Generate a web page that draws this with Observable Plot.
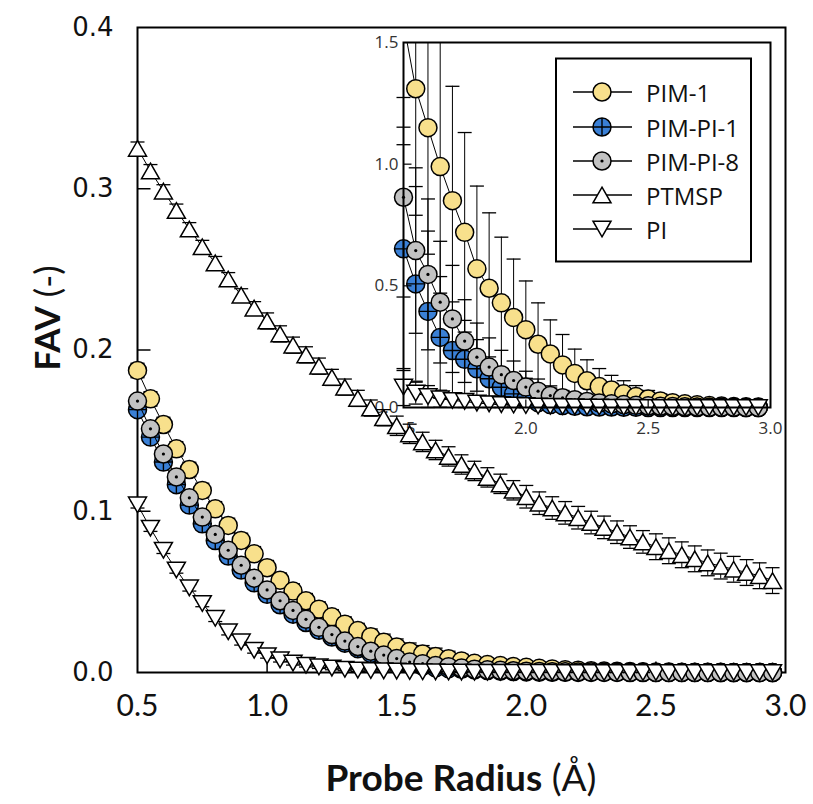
<!DOCTYPE html>
<html><head><meta charset="utf-8">
<script src="https://cdn.jsdelivr.net/npm/d3@7"></script>
<script src="https://cdn.jsdelivr.net/npm/@observablehq/plot@0.6"></script>
<style>
body{margin:0;background:#fff;}
#wrap{position:relative;width:813px;height:804px;overflow:hidden;background:#fff;}
#wrap > svg{position:absolute;}
</style></head><body><div id="wrap"></div>
<script>
// ---------- data (FAV as fraction; inset shows the same data in %) ----------
const radius = [0.5,0.55,0.6,0.65,0.7,0.75,0.8,0.85,0.9,0.95,1.0,1.05,1.1,1.15,1.2,1.25,1.3,1.35,1.4,1.45,1.5,1.55,1.6,1.65,1.7,1.75,1.8,1.85,1.9,1.95,2.0,2.05,2.1,2.15,2.2,2.25,2.3,2.35,2.4,2.45,2.5,2.55,2.6,2.65,2.7,2.75,2.8,2.85,2.9,2.95];

const pim1 = [0.1873,0.1697,0.1538,0.1387,0.1259,0.1129,0.1015,0.0912,0.0819,0.0736,
  0.0650,0.0572,0.0505,0.0445,0.0393,0.0345,0.0300,0.0260,0.0222,0.0188,
  0.0158,0.0131,0.0115,0.0099,0.0085,0.0072,0.0057,0.0049,0.0043,0.0037,
  0.0032,0.0026,0.0022,0.00175,0.0014,0.0011,0.00086,0.00072,0.00056,0.00045,
  0.00035,0.00027,0.0002,0.00015,0.00011,0.00008,0.00006,0.00004,0.00003,0.00002];
const pim1Err = [0.0045,0.0045,0.0045,0.0045,0.0045,0.0045,0.0045,0.0045,0.0045,0.0045,
  0.0045,0.0045,0.0045,0.0045,0.0045,0.0045,0.0045,0.0045,0.0048,0.0050,
  0.0050,0.0052,0.0052,0.0052,0.0047,0.0041,0.0034,0.0031,0.0027,0.0024,
  0.0020,0.0017,0.0014,0.00125,0.0010,0.00086,0.00074,0.0006,0.00054,0.00045,
  0.00035,0.00028,0.0002,0.00015,0.0001,0.00008,0.00006,0.00004,0.00003,0.00002];

const pimPI1 = [0.1630,0.1460,0.1305,0.1165,0.1038,0.0922,0.0818,0.0722,0.0635,0.0556,
  0.0485,0.0420,0.0362,0.0310,0.0262,0.0220,0.0182,0.0148,0.0118,0.0090,
  0.00652,0.00508,0.00395,0.00288,0.00234,0.00198,0.00159,0.00118,0.00083,0.00056,
  0.00035,0.0002,0.00012,0.00008,0.00005,0.00003,0.00002,0.00002,0.00001,0.00001,
  0,0,0,0,0,0,0,0,0,0];
const pimPI1Err = [0.003,0.003,0.003,0.003,0.003,0.003,0.003,0.003,0.003,0.003,
  0.003,0.003,0.003,0.003,0.003,0.003,0.003,0.003,0.003,0.003,
  0.0050,0.0040,0.0033,0.0025,0.0020,0.0016,0.0012,0.0009,0.0007,0.0005,
  0.00035,0.0002,0.00012,0.00008,0.00005,0.00003,0.00002,0.00002,0.00001,0.00001,
  0,0,0,0,0,0,0,0,0,0];

const pimPI8 = [0.1683,0.1511,0.1355,0.1213,0.1083,0.0964,0.0856,0.0758,0.0665,0.0585,
  0.0512,0.0445,0.0385,0.0330,0.0280,0.0235,0.0195,0.0161,0.0132,0.0108,
  0.00864,0.00645,0.00547,0.00433,0.00364,0.00273,0.00207,0.00166,0.00135,0.00111,
  0.00084,0.00067,0.00049,0.0004,0.00032,0.00025,0.00019,0.00015,0.00012,0.00009,
  0.00007,0.00005,0.00004,0.00003,0.00002,0.00001,0.00001,0.00001,0,0];
const pimPI8Err = [0.003,0.003,0.003,0.003,0.003,0.003,0.003,0.003,0.003,0.003,
  0.003,0.003,0.003,0.003,0.003,0.003,0.003,0.003,0.003,0.003,
  0.0041,0.0034,0.0031,0.0025,0.0022,0.0017,0.0014,0.0012,0.0010,0.0008,
  0.00065,0.0005,0.0004,0.0003,0.00025,0.0002,0.00015,0.0001,0.0001,0.00008,
  0.00006,0.00005,0.00004,0.00003,0.00002,0.00001,0.00001,0.00001,0,0];

const ptmsp = [0.325,0.311,0.2985,0.2865,0.275,0.264,0.254,0.244,0.234,0.226,
  0.218,0.210,0.203,0.197,0.190,0.183,0.177,0.170,0.164,0.158,
  0.153,0.148,0.143,0.138,0.134,0.129,0.125,0.121,0.117,0.113,
  0.109,0.105,0.102,0.099,0.096,0.093,0.090,0.087,0.084,0.081,
  0.078,0.0755,0.073,0.0705,0.068,0.066,0.064,0.062,0.060,0.057];
const ptmspErr = [0.004,0.004,0.004,0.004,0.004,0.004,0.004,0.004,0.004,0.004,
  0.005,0.005,0.005,0.005,0.005,0.005,0.005,0.005,0.005,0.005,
  0.006,0.006,0.006,0.006,0.006,0.006,0.006,0.006,0.006,0.006,
  0.007,0.007,0.007,0.007,0.007,0.007,0.007,0.007,0.007,0.007,
  0.008,0.008,0.008,0.008,0.008,0.008,0.008,0.008,0.008,0.008];

const pi = [0.1040,0.0895,0.0758,0.0636,0.0525,0.0428,0.0336,0.0253,0.0190,0.0138,
  0.0104,0.0078,0.0058,0.0045,0.0035,0.0027,0.0020,0.0015,0.0012,0.0010,
  0.00084,0.00059,0.00045,0.00036,0.00029,0.00025,0.00018,0.00015,0.00012,0.0001,
  0.00008,0.00006,0.00005,0.00004,0.00003,0.00002,0.00002,0.00001,0.00001,0.00001,
  0,0,0,0,0,0,0,0,0,0];
const piErr = [0.002,0.002,0.002,0.002,0.002,0.002,0.002,0.002,0.002,0.0018,
  0.0015,0.0013,0.0012,0.0011,0.001,0.001,0.0009,0.0009,0.0008,0.0008,
  0.00076,0.00045,0.00045,0.00035,0.0003,0.00025,0.0002,0.00015,0.00012,0.0001,
  0.00008,0.00006,0.00005,0.00004,0.00003,0.00002,0.00002,0.00001,0.00001,0.00001,
  0,0,0,0,0,0,0,0,0,0];

const seriesNames = ["PIM-1","PIM-PI-1","PIM-PI-8","PTMSP","PI"];
const mainXTicks = [0.5,1.0,1.5,2.0,2.5,3.0];
const mainYTicks = [0.0,0.1,0.2,0.3,0.4];
const insetXTicks = [1.5,2.0,2.5,3.0];
const insetYTicks = [0.0,0.5,1.0,1.5];

// ---------- symbols ----------
const triUp = {draw(ctx){const hw=9,h=15.6;ctx.moveTo(0,-h/2);ctx.lineTo(hw,h/2);ctx.lineTo(-hw,h/2);ctx.closePath();}};
const triDown = {draw(ctx){const hw=9,h=15.6;ctx.moveTo(0,h/2);ctx.lineTo(hw,-h/2);ctx.lineTo(-hw,-h/2);ctx.closePath();}};
const capSym = {draw(ctx){ctx.moveTo(-7,0);ctx.lineTo(7,0);}};
const plusSym = {draw(ctx){const r=9;ctx.moveTo(-r,0);ctx.lineTo(r,0);ctx.moveTo(0,-r);ctx.lineTo(0,r);}};
const tickRight = (n)=>({draw(ctx){ctx.moveTo(0,0);ctx.lineTo(n,0);}});
const tickUp = (n)=>({draw(ctx){ctx.moveTo(0,0);ctx.lineTo(0,-n);}});

const COL = {y:"#f8e08c", b:"#3a80d6", g:"#c2c2c2"};

function rows(vals, errs, k){
  return radius.map((x,i)=>({x, y:vals[i]*k, lo:(vals[i]-errs[i])*k, hi:(vals[i]+errs[i])*k}));
}

function markerMarks(name, data){
  const base = {x:"x", y:"y"};
  if (name==="PIM-1") return [Plot.dot(data,{...base, r:9, fill:COL.y, stroke:"black", strokeWidth:1.5})];
  if (name==="PIM-PI-1") return [Plot.dot(data,{...base, r:9, fill:COL.b, stroke:"black", strokeWidth:1.5}),
                                 Plot.dot(data,{...base, symbol:plusSym, fill:"none", stroke:"black", strokeWidth:1.4})];
  if (name==="PIM-PI-8") return [Plot.dot(data,{...base, r:9, fill:COL.g, stroke:"black", strokeWidth:1.5}),
                                 Plot.dot(data,{...base, r:1.6, fill:"black", stroke:"none"})];
  if (name==="PTMSP") return [Plot.dot(data,{...base, symbol:triUp, fill:"white", stroke:"black", strokeWidth:1.5})];
  return [Plot.dot(data,{...base, symbol:triDown, fill:"white", stroke:"black", strokeWidth:1.5})];
}

function seriesMarks(name, data, ymax){
  const inR = v => v>=0 && v<=ymax;
  const vis = data.filter(d=>inR(d.y));
  return [
    Plot.line(data,{x:"x", y:"y", stroke:"black", strokeWidth:1, clip:true}),
    Plot.ruleX(data.filter(d=>d.hi>d.lo),{x:"x", y1:"lo", y2:"hi", stroke:"black", strokeWidth:1, clip:true}),
    Plot.dot(data.filter(d=>d.hi>d.lo && inR(d.hi)),{x:"x", y:"hi", symbol:capSym, fill:"none", stroke:"black", strokeWidth:1.3}),
    Plot.dot(data.filter(d=>d.hi>d.lo && inR(d.lo)),{x:"x", y:"lo", symbol:capSym, fill:"none", stroke:"black", strokeWidth:1.3}),
    ...markerMarks(name, vis)
  ];
}

const mainSets = {
  "PIM-1": rows(pim1, pim1Err, 1),
  "PIM-PI-1": rows(pimPI1, pimPI1Err, 1),
  "PIM-PI-8": rows(pimPI8, pimPI8Err, 1),
  "PTMSP": rows(ptmsp, ptmspErr, 1),
  "PI": rows(pi, piErr, 1)
};
const insetSets = {};
for (const [n, vals, errs] of [["PIM-1",pim1,pim1Err],["PIM-PI-1",pimPI1,pimPI1Err],["PIM-PI-8",pimPI8,pimPI8Err],["PI",pi,piErr]]) {
  insetSets[n] = rows(vals, errs, 100).filter(d=>d.x>=1.5-1e-9);
}

const fmt1 = d3.format(".1f");
const wrap = document.getElementById("wrap");

function setFont(svg, label, family, size, fill){
  d3.select(svg).selectAll(`g[aria-label="${label}"]`)
    .attr("font-family", family).attr("font-size", size).attr("fill", fill)
    .selectAll("text").attr("font-family", family).attr("font-size", size);
}

// ---------- inset (drawn underneath main) ----------
const inset = Plot.plot({
  width: 412, height: 408,
  marginLeft: 30, marginRight: 15, marginTop: 8, marginBottom: 35,
  x: {domain:[1.5,3.0], axis:null},
  y: {domain:[0,1.5], axis:null},
  style: {background:"transparent", overflow:"visible"},
  marks: [
    ...["PIM-1","PIM-PI-1","PIM-PI-8","PI"].flatMap(n=>seriesMarks(n, insetSets[n], 1.5)),
    Plot.dot(insetYTicks.slice(1,3),{x:()=>1.5, y:d=>d, symbol:tickRight(8), stroke:"black", strokeWidth:1.2}),
    Plot.dot(insetXTicks.slice(1,3),{x:d=>d, y:()=>0, symbol:tickUp(8), stroke:"black", strokeWidth:1.2}),
    Plot.frame({stroke:"black", strokeWidth:2}),
    Plot.axisY({ticks:insetYTicks, tickFormat:fmt1, tickSize:0, tickPadding:5, fontSize:17, label:null}),
    Plot.axisX({ticks:insetXTicks, tickFormat:fmt1, tickSize:0, tickPadding:14, fontSize:17, label:null})
  ]
});
setFont(inset, "y-axis tick label", "Open Sans", 17, "#333");
setFont(inset, "x-axis tick label", "Open Sans", 17, "#333");
inset.style.left = "373px"; inset.style.top = "34px";
wrap.appendChild(inset);

// ---------- main ----------
const main = Plot.plot({
  width: 813, height: 804,
  marginLeft: 137, marginRight: 28, marginTop: 27, marginBottom: 132,
  x: {domain:[0.5,3.0], axis:null},
  y: {domain:[0,0.4], axis:null},
  style: {background:"transparent", overflow:"visible"},
  marks: [
    Plot.frame({stroke:"black", strokeWidth:2}),
    Plot.dot([0.1,0.2,0.3],{x:()=>0.5, y:d=>d, symbol:tickRight(13), stroke:"black", strokeWidth:1.5}),
    Plot.dot([1.0,1.5,2.0,2.5],{x:d=>d, y:()=>0, symbol:tickUp(11), stroke:"black", strokeWidth:1.5}),
    ...seriesNames.flatMap(n=>seriesMarks(n, mainSets[n], 0.4)),
    Plot.axisY({ticks:mainYTicks, tickFormat:fmt1, tickSize:0, tickPadding:24, fontSize:26, label:null}),
    Plot.axisX({ticks:mainXTicks, tickFormat:fmt1, tickSize:0, tickPadding:22, fontSize:30, label:null})
  ]
});
setFont(main, "y-axis tick label", "DejaVu Sans", 26, "#111");
setFont(main, "x-axis tick label", "Lato", 30, "#111");
main.style.left = "0px"; main.style.top = "0px";
main.style.pointerEvents = "none";
wrap.appendChild(main);

// axis titles
const ms = d3.select(main);
const yt = ms.append("text").attr("transform","translate(46,318) rotate(-90)")
  .attr("text-anchor","middle").attr("dominant-baseline","central")
  .attr("font-family","Lato").attr("font-size",35).attr("fill","#111");
yt.append("tspan").attr("font-weight","bold").text("FAV");
yt.append("tspan").attr("font-weight","normal").text(" (-)");
const xt = ms.append("text").attr("x",461).attr("y",791)
  .attr("text-anchor","middle").attr("font-family","Lato").attr("font-size",37).attr("fill","#111");
xt.append("tspan").attr("font-weight","bold").text("Probe Radius");
xt.append("tspan").attr("font-weight","normal").text(" (Å)");

// ---------- legend ----------
const lg = d3.create("svg").attr("width",200).attr("height",208)
  .style("left","554px").style("top","57px").style("position","absolute");
lg.append("rect").attr("x",2).attr("y",1.5).attr("width",195).attr("height",203)
  .attr("fill","white").attr("stroke","black").attr("stroke-width",2);
const legY = [35,70,104,138,172];
seriesNames.forEach((n,i)=>{
  const g = lg.append("g").attr("transform",`translate(0,${legY[i]})`);
  g.append("line").attr("x1",19).attr("x2",78).attr("y1",0).attr("y2",0).attr("stroke","black").attr("stroke-width",1.5);
  const cx = 48;
  if (n==="PIM-1") g.append("circle").attr("cx",cx).attr("r",9).attr("fill",COL.y).attr("stroke","black").attr("stroke-width",1.5);
  if (n==="PIM-PI-1") {
    g.append("circle").attr("cx",cx).attr("r",9).attr("fill",COL.b).attr("stroke","black").attr("stroke-width",1.5);
    g.append("path").attr("transform",`translate(${cx},0)`).attr("d",d3.symbol(plusSym)()).attr("fill","none").attr("stroke","black").attr("stroke-width",1.4);
  }
  if (n==="PIM-PI-8") {
    g.append("circle").attr("cx",cx).attr("r",9).attr("fill",COL.g).attr("stroke","black").attr("stroke-width",1.5);
    g.append("circle").attr("cx",cx).attr("r",1.6).attr("fill","black");
  }
  if (n==="PTMSP") g.append("path").attr("transform",`translate(${cx},0)`).attr("d",d3.symbol(triUp)()).attr("fill","white").attr("stroke","black").attr("stroke-width",1.5);
  if (n==="PI") g.append("path").attr("transform",`translate(${cx},0)`).attr("d",d3.symbol(triDown)()).attr("fill","white").attr("stroke","black").attr("stroke-width",1.5);
  g.append("text").attr("x",92).attr("y",0).attr("dominant-baseline","central")
    .attr("font-family","Open Sans").attr("font-size",24).attr("fill","#111").text(n);
});
wrap.appendChild(lg.node());
</script></body></html>
